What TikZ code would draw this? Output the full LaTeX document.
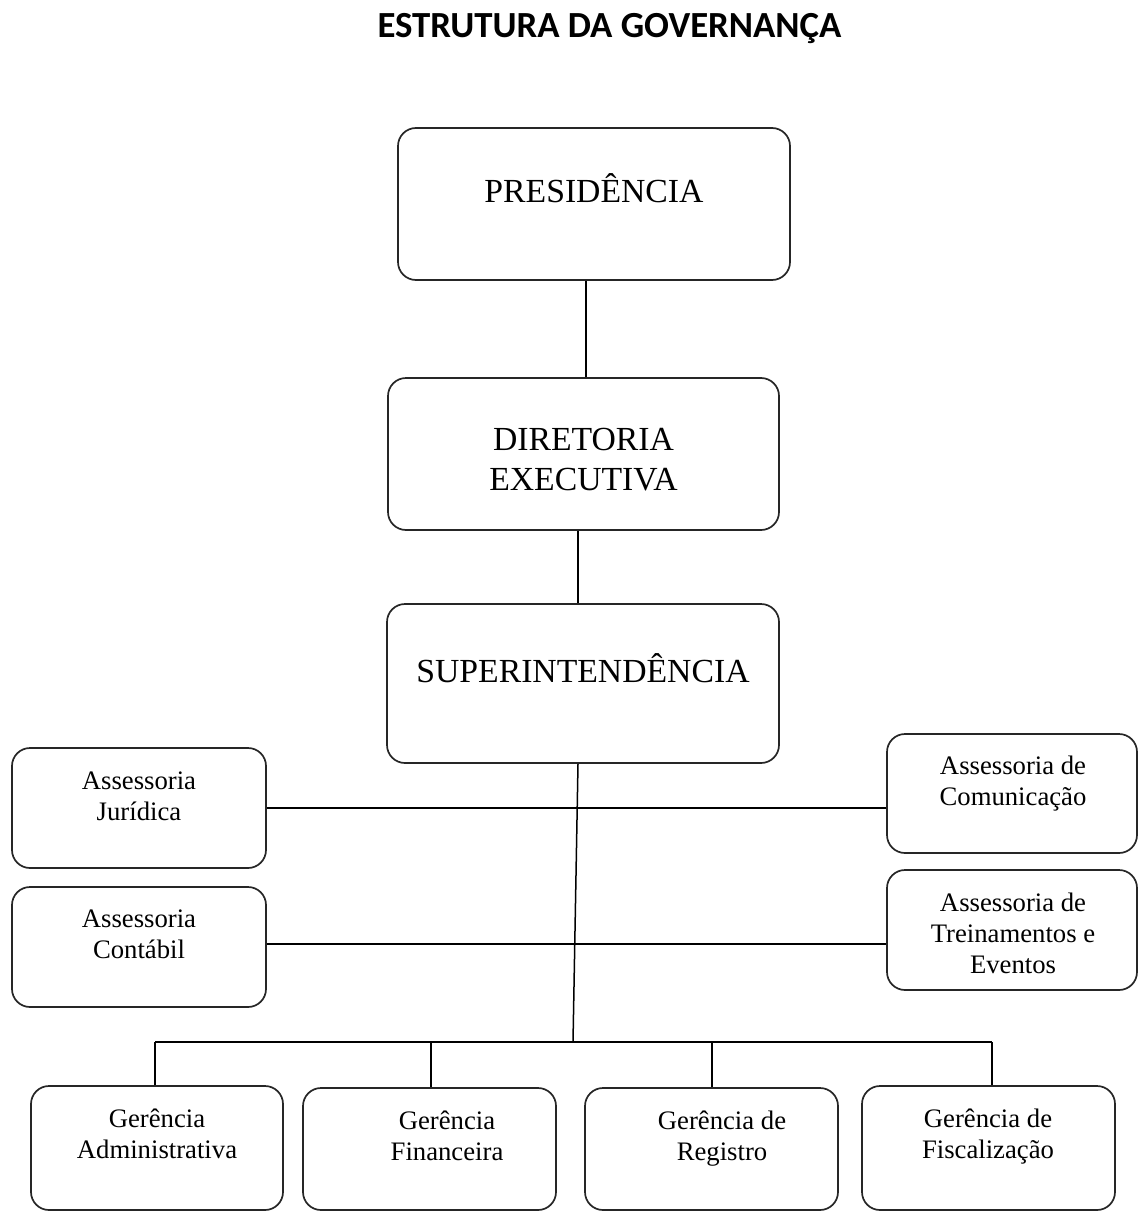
\documentclass[tikz,border=0pt]{standalone}
\usepackage{fontspec}
\setmainfont{Liberation Serif}
\newfontfamily\titlefont{Carlito}
\begin{document}
\begin{tikzpicture}[x=1pt,y=-1pt,
  box/.style={draw=black!85, line width=1.7pt, rounded corners=18pt, inner sep=0pt},
  big/.style={font=\fontsize{33.7}{40}\selectfont, align=center, inner sep=0pt},
  small/.style={font=\fontsize{26.7}{31}\selectfont, align=center, inner sep=0pt},
  conn/.style={draw=black, line width=1.5pt}]
\useasboundingbox (0,0) rectangle (1139,1212);
% title
\node[anchor=base, inner sep=0pt, font=\titlefont\bfseries\fontsize{36.8}{40}\selectfont] (title) at (609.5,37.5) {ESTRUTURA DA GOVERNANÇA};
% main boxes
\node[box, minimum width=392pt, minimum height=152pt] (pres) at (594,204) {};
\node[big] (presT) at (594,188) {PRESIDÊNCIA};
\node[box, minimum width=391pt, minimum height=152pt] (dir) at (583.5,454) {};
\node[big] (dirT) at (583.5,460) {DIRETORIA\\EXECUTIVA};
\node[box, minimum width=392pt, minimum height=159pt] (sup) at (583,683.5) {};
\node[big] (supT) at (583,668) {SUPERINTENDÊNCIA};
% advisory boxes
\node[box, minimum width=254pt, minimum height=120pt] (jur) at (139,808) {};
\node[small] (jurT) at (139,796.5) {Assessoria\\Jurídica};
\node[box, minimum width=254pt, minimum height=120pt] (cont) at (139,947) {};
\node[small] (contT) at (139,934.5) {Assessoria\\Contábil};
\node[box, minimum width=250pt, minimum height=119pt] (com) at (1012,793.5) {};
\node[small] (comT) at (1013,784) {Assessoria de\\Comunicação};
\node[box, minimum width=250pt, minimum height=120pt] (trein) at (1012,930) {};
\node[small] (treinT) at (1013,933) {Assessoria de\\Treinamentos e\\Eventos};
% management boxes
\node[box, minimum width=252pt, minimum height=124pt] (adm) at (157,1148) {};
\node[small] (admT) at (157,1134) {Gerência\\Administrativa};
\node[box, minimum width=253pt, minimum height=122pt] (fin) at (429.5,1149) {};
\node[small] (finT) at (447,1136) {Gerência\\Financeira};
\node[box, minimum width=253pt, minimum height=122pt] (reg) at (711.5,1149) {};
\node[small] (regT) at (722,1139) {Gerência de\\Registro};
\node[box, minimum width=253pt, minimum height=124pt] (fis) at (988.5,1148) {};
\node[small] (fisT) at (988,1136.5) {Gerência de\\Fiscalização};
% connectors
\coordinate (bus) at (573,1042);
\draw[conn] ([xshift=2.5pt]dir.north) -- ([xshift=2.5pt]dir.north |- pres.south);
\draw[conn] ([xshift=-5.5pt]dir.south) -- ([xshift=-5.5pt]dir.south |- sup.north);
\draw[conn] ([xshift=-5pt]sup.south) -- (bus);
\draw[conn] (jur.east) -- (jur.east -| com.west);
\draw[conn] ([yshift=3pt]cont.east) -- ([yshift=3pt]cont.east -| trein.west);
\draw[conn] ([xshift=-2pt]adm.north |- bus) -- ([xshift=3.5pt]fis.north |- bus);
\draw[conn] ([xshift=-2pt]adm.north) -- ([xshift=-2pt]adm.north |- bus);
\draw[conn] ([xshift=1.5pt]fin.north) -- ([xshift=1.5pt]fin.north |- bus);
\draw[conn] ([xshift=0.5pt]reg.north) -- ([xshift=0.5pt]reg.north |- bus);
\draw[conn] ([xshift=3.5pt]fis.north) -- ([xshift=3.5pt]fis.north |- bus);
\end{tikzpicture}
\end{document}
